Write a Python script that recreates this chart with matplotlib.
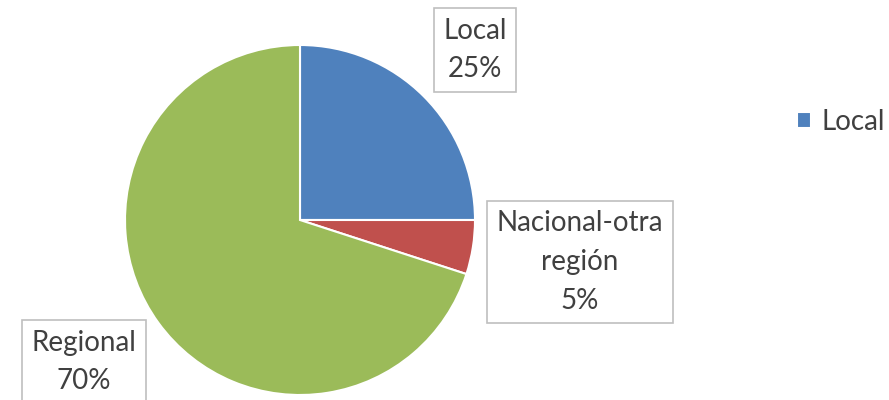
import matplotlib
matplotlib.use("Agg")
import matplotlib.pyplot as plt

categories = ["Local", "Nacional-otra\nregión", "Regional"]
values = [25, 5, 70]
colors = ["#4F81BD", "#C0504D", "#9BBB59"]
legend_labels = ["Local"]

plt.rcParams['font.family'] = ['Lato', 'DejaVu Sans']

W, H = 889, 400
fig = plt.figure(figsize=(W/100, H/100), dpi=100)
ax = fig.add_axes([0, 0, 1, 1])
ax.set_aspect('equal')
ax.axis('off')

wedges, _ = ax.pie(values, colors=colors, startangle=90, counterclock=False,
                   center=(300, 180), radius=175,
                   wedgeprops=dict(edgecolor='white', linewidth=1.5))
ax.set_xlim(0, W)
ax.set_ylim(0, H)

label_pos = [(475, 350), (580, 138), (84, 38)]
for cat, v, (x, y) in zip(categories, values, label_pos):
    ax.text(x, y, f"{cat}\n{v}%", ha='center', va='center', fontsize=20,
            color='#404040', linespacing=1.6,
            bbox=dict(boxstyle='square,pad=0.35', facecolor='white',
                      edgecolor='#BFBFBF', linewidth=1.2))

leg = ax.legend([wedges[0]], legend_labels, loc='center left',
                bbox_to_anchor=(797/W, 278/H), frameon=False, fontsize=20,
                handlelength=0.5, handleheight=0.5, handletextpad=0.4,
                labelcolor='#404040', borderaxespad=0, borderpad=0)

fig.savefig("out.png", dpi=100)
